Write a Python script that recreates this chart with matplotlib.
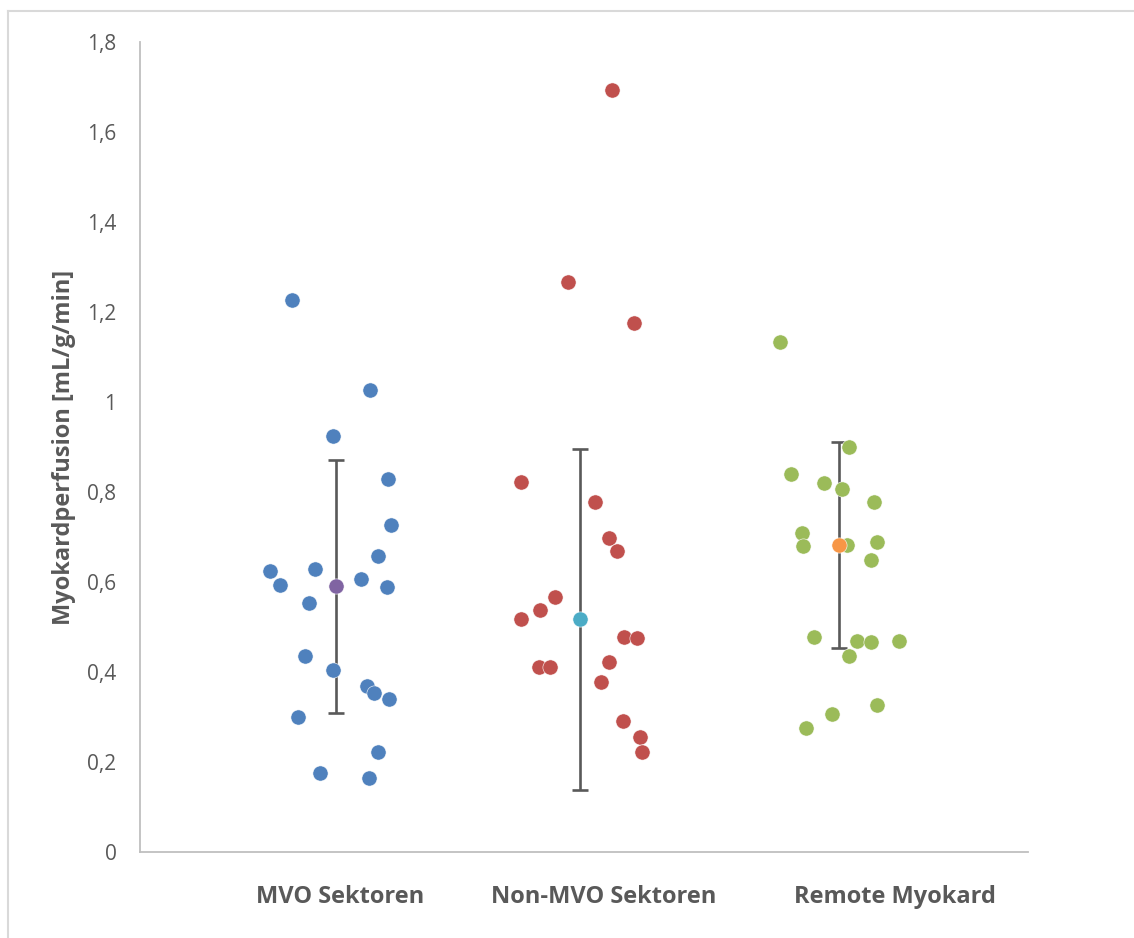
import matplotlib.pyplot as plt
from matplotlib.lines import Line2D

plt.rcParams['font.family'] = ['Open Sans', 'DejaVu Sans']

categories = ["MVO Sektoren", "Non-MVO Sektoren", "Remote Myokard"]
category_x = [0.90, 2.09, 3.40]

# MVO sectors (x = jitter position, y = perfusion)
mvo_x = [0.686, 1.036, 0.868, 1.117, 1.129, 1.073, 0.587, 0.788, 0.632, 0.995, 1.113,
         0.763, 0.742, 0.868, 1.023, 1.053, 1.123, 0.712, 1.072, 0.811, 1.030]
mvo_y = [1.227, 1.027, 0.924, 0.829, 0.726, 0.658, 0.624, 0.628, 0.594, 0.607, 0.590,
         0.554, 0.436, 0.404, 0.370, 0.353, 0.340, 0.299, 0.222, 0.176, 0.164]

# Non-MVO sectors
non_x = [2.125, 1.927, 2.225, 1.715, 2.050, 2.114, 2.147, 1.868, 1.803, 1.715,
         2.179, 2.240, 1.796, 1.848, 2.114, 2.075, 2.176, 2.251, 2.263]
non_y = [1.693, 1.267, 1.175, 0.822, 0.777, 0.698, 0.670, 0.566, 0.538, 0.517,
         0.477, 0.475, 0.412, 0.412, 0.422, 0.378, 0.292, 0.256, 0.223]

# Remote myocardium
rem_x = [2.883, 3.195, 2.934, 3.080, 3.161, 3.308, 2.982, 2.988, 3.183, 3.321,
         3.293, 3.037, 3.228, 3.294, 3.419, 3.195, 3.318, 3.118, 3.001]
rem_y = [1.133, 0.900, 0.841, 0.821, 0.807, 0.778, 0.710, 0.681, 0.683, 0.688,
         0.648, 0.478, 0.470, 0.467, 0.468, 0.436, 0.327, 0.307, 0.276]

# group means and error bar ends
mean_x = [0.885, 1.981, 3.147]
mean_y = [0.591, 0.517, 0.682]
err_low = [0.310, 0.138, 0.454]
err_high = [0.870, 0.896, 0.910]

point_colors = ["#4F81BD", "#C0504D", "#9BBB59"]
mean_colors = ["#8064A2", "#4BACC6", "#F79646"]

fig = plt.figure(figsize=(11.34, 9.38), dpi=100)
ax = fig.add_axes([140 / 1134, 86 / 938, 888 / 1134, 810 / 938])

for xs, ys, c in zip([mvo_x, non_x, rem_x], [mvo_y, non_y, rem_y], point_colors):
    ax.scatter(xs, ys, s=120, color=c, edgecolors="white", linewidths=0.4, zorder=3)

for i in range(3):
    yerr = [[mean_y[i] - err_low[i]], [err_high[i] - mean_y[i]]]
    ax.errorbar([mean_x[i]], [mean_y[i]], yerr=yerr, fmt="none", ecolor="#595959",
                elinewidth=1.9, capsize=6, capthick=1.9, zorder=2)
    ax.scatter([mean_x[i]], [mean_y[i]], s=120, color=mean_colors[i],
               edgecolors="white", linewidths=0.4, zorder=4)

ax.set_xlim(0, 4)
ax.set_ylim(0, 1.8)
yt = [0, 0.2, 0.4, 0.6, 0.8, 1.0, 1.2, 1.4, 1.6, 1.8]
ax.set_yticks(yt)
ax.set_yticklabels([("%g" % v).replace(".", ",") for v in yt], fontsize=15, color="#595959")
ax.set_xticks(category_x)
ax.set_xticklabels(categories, fontsize=17, fontweight="bold", color="#595959")
ax.tick_params(axis="y", length=0, pad=17)
ax.tick_params(axis="x", length=0, pad=24)

for s in ["top", "right"]:
    ax.spines[s].set_visible(False)
ax.spines["left"].set_color("#BFBFBF")
ax.spines["bottom"].set_color("#BFBFBF")
ax.spines["left"].set_linewidth(1.3)
ax.spines["bottom"].set_linewidth(1.3)

ax.set_ylabel("Myokardperfusion [mL/g/min]", fontsize=17, fontweight="bold",
              color="#595959", labelpad=8)

# chart border (top and left edges visible)
fig.add_artist(Line2D([8 / 1134, 1.0], [1 - 11 / 938, 1 - 11 / 938],
                      transform=fig.transFigure, color="#D9D9D9", lw=1.5))
fig.add_artist(Line2D([8 / 1134, 8 / 1134], [0, 1 - 11 / 938],
                      transform=fig.transFigure, color="#D9D9D9", lw=1.5))

fig.savefig("out.png", dpi=100)
